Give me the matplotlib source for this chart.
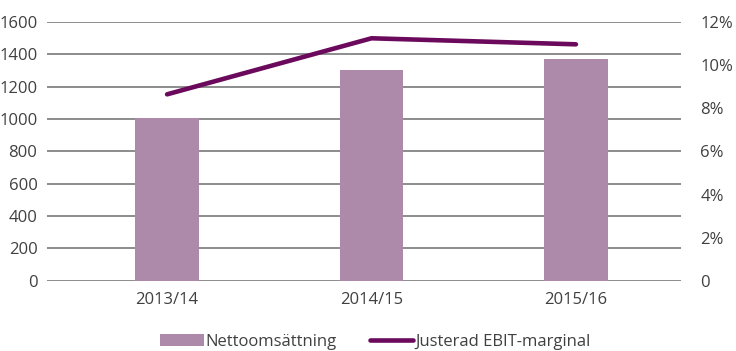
import matplotlib.pyplot as plt
import numpy as np

plt.rcParams['font.family'] = ['Open Sans', 'DejaVu Sans']

years = ['2013/14', '2014/15', '2015/16']
nettoomsattning = [1005, 1302, 1370]
ebit_marginal = [8.65, 11.25, 10.97]

bar_color = '#ad8aa9'
line_color = '#6b0a5c'
text_color = '#404040'

fig, ax = plt.subplots(figsize=(7.36, 3.51), dpi=100)
fig.subplots_adjust(left=0.064, right=0.925, top=0.937, bottom=0.2)

x = np.arange(len(years))
ax.bar(x, nettoomsattning, width=0.31, color=bar_color, label='Nettoomsättning', zorder=2)
ax.set_ylim(0, 1600)
ax.set_yticks(range(0, 1601, 200))
ax.set_xlim(-0.587, 2.513)
ax.set_xticks(x)
ax.set_xticklabels(years)
ax.grid(axis='y', color='#6e6e6e', linewidth=1.1, zorder=0)
for s in ax.spines.values():
    s.set_visible(False)
ax.tick_params(length=0, labelsize=12, colors=text_color, pad=8)
ax.tick_params(axis='y', pad=7)

ax2 = ax.twinx()
ax2.plot(x, ebit_marginal, color=line_color, linewidth=3.3, label='Justerad EBIT-marginal',
         solid_capstyle='round', zorder=3)
ax2.set_ylim(0, 12)
ax2.set_yticks(range(0, 13, 2))
ax2.set_yticklabels(['0'] + [f'{v}%' for v in range(2, 13, 2)])
for s in ax2.spines.values():
    s.set_visible(False)
ax2.tick_params(length=0, labelsize=12, colors=text_color, pad=14)

h1, l1 = ax.get_legend_handles_labels()
h2, l2 = ax2.get_legend_handles_labels()
fig.legend(h1 + h2, l1 + l2, loc='lower center', bbox_to_anchor=(0.51, -0.04), ncol=2,
           frameon=False, fontsize=12, handlelength=2.6, handletextpad=0.1,
           columnspacing=2.0, labelcolor=text_color)

fig.savefig('out.png')
